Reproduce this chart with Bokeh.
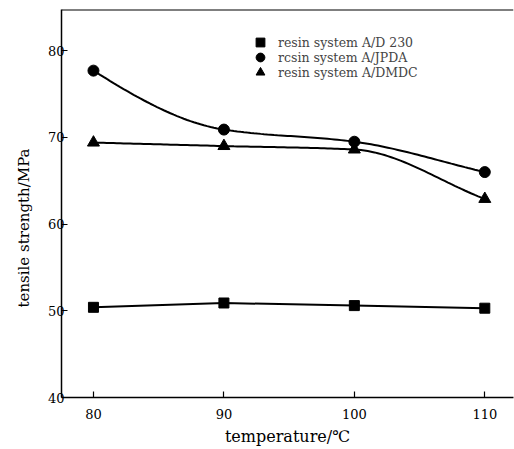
import numpy as np
from bokeh.plotting import figure
from bokeh.models import Legend, LegendItem, Span, FixedTicker, Range1d, Title
from bokeh.embed import file_html
from bokeh.resources import INLINE

temperature = [80, 90, 100, 110]
d230 = [50.4, 50.9, 50.6, 50.3]
ipda = [77.7, 70.9, 69.5, 66.0]
dmdc = [69.4, 69.0, 68.6, 62.9]
x_ticks = [80, 90, 100, 110]
y_ticks = [40, 50, 60, 70, 80]
names = ["resin system A/D 230", "rcsin system A/JPDA", "resin system A/DMDC"]

FONT = "DejaVu Serif"


def smooth(xs, ys, n=40):
    """Monotone cubic Hermite curve through the data points."""
    xs = np.asarray(xs, float)
    ys = np.asarray(ys, float)
    h = np.diff(xs)
    d = np.diff(ys) / h
    m = np.zeros_like(ys)
    for i in range(1, len(xs) - 1):
        if d[i - 1] * d[i] <= 0:
            m[i] = 0.0
        else:
            w1 = 2 * h[i] + h[i - 1]
            w2 = h[i] + 2 * h[i - 1]
            m[i] = (w1 + w2) / (w1 / d[i - 1] + w2 / d[i])
    s0 = ((2 * h[0] + h[1]) * d[0] - h[0] * d[1]) / (h[0] + h[1])
    m[0] = s0 if np.sign(s0) == np.sign(d[0]) else 0.0
    m[-1] = d[-1]
    ox, oy = [], []
    for i in range(len(xs) - 1):
        t = np.linspace(0, 1, n)
        h00 = 2 * t**3 - 3 * t**2 + 1
        h10 = t**3 - 2 * t**2 + t
        h01 = -2 * t**3 + 3 * t**2
        h11 = t**3 - t**2
        y = h00 * ys[i] + h10 * h[i] * m[i] + h01 * ys[i + 1] + h11 * h[i] * m[i + 1]
        ox.extend(list(xs[i] + t * h[i]))
        oy.extend(list(y))
    return ox, oy


p = figure(width=514, height=449, output_backend="svg", toolbar_location=None,
           x_range=Range1d(77.55, 112.2), y_range=Range1d(40, 84.75),
           min_border_left=61, min_border_right=1, min_border_top=9, min_border_bottom=52)
p.outline_line_color = None
p.xgrid.visible = False
p.ygrid.visible = False
p.background_fill_color = "white"
p.border_fill_color = "white"

for ax in (p.xaxis[0], p.yaxis[0]):
    ax.axis_line_width = 1.5
    ax.axis_line_color = "black"
    ax.major_tick_in = 6
    ax.major_tick_out = 0
    ax.major_tick_line_width = 1.2
    ax.minor_tick_line_color = None
    ax.major_label_text_font = FONT
    ax.major_label_text_font_size = "13px"
    ax.major_label_text_color = "black"
    ax.axis_label_text_font = FONT
    ax.axis_label_text_font_size = "16px"
    ax.axis_label_text_font_style = "normal"
    ax.axis_label_text_color = "black"

p.xaxis[0].ticker = FixedTicker(ticks=x_ticks)
p.yaxis[0].ticker = FixedTicker(ticks=y_ticks)
p.xaxis[0].major_label_standoff = 11
p.yaxis[0].major_label_standoff = -3
p.xaxis[0].axis_label = "temperature/℃"
p.xaxis[0].axis_label_standoff = 5

p.add_layout(Title(text="tensile strength/MPa", align="left", offset=90, standoff=24,
                   text_font=FONT, text_font_size="15px", text_font_style="normal",
                   text_color="black"), "left")

p.add_layout(Span(location=p.y_range.end, dimension="width", line_color="black", line_width=2))

renderers = []
for ys, marker, size, curved in [(d230, "square", 10, False),
                                 (ipda, "circle", 11, True),
                                 (dmdc, "triangle", 12, True)]:
    if curved:
        sx, sy = smooth(temperature, ys)
    else:
        sx, sy = temperature, ys
    p.line(sx, sy, line_color="black", line_width=2)
    r = p.scatter(temperature, ys, marker=marker, size=size, fill_color="black", line_color="black")
    renderers.append(r)

# one legend per row so that rows can sit close together with full-size markers
for i, (name, r) in enumerate(zip(names, renderers)):
    lg = Legend(items=[LegendItem(label=name, renderers=[r])],
                location=(188, 344 - 15 * i), padding=0, margin=0, spacing=0,
                glyph_width=22, glyph_height=22, label_height=14, label_standoff=7,
                label_text_font=FONT, label_text_font_size="12.5px",
                background_fill_alpha=0, border_line_color=None)
    p.add_layout(lg)

open("out.html", "w").write(file_html(p, INLINE))
